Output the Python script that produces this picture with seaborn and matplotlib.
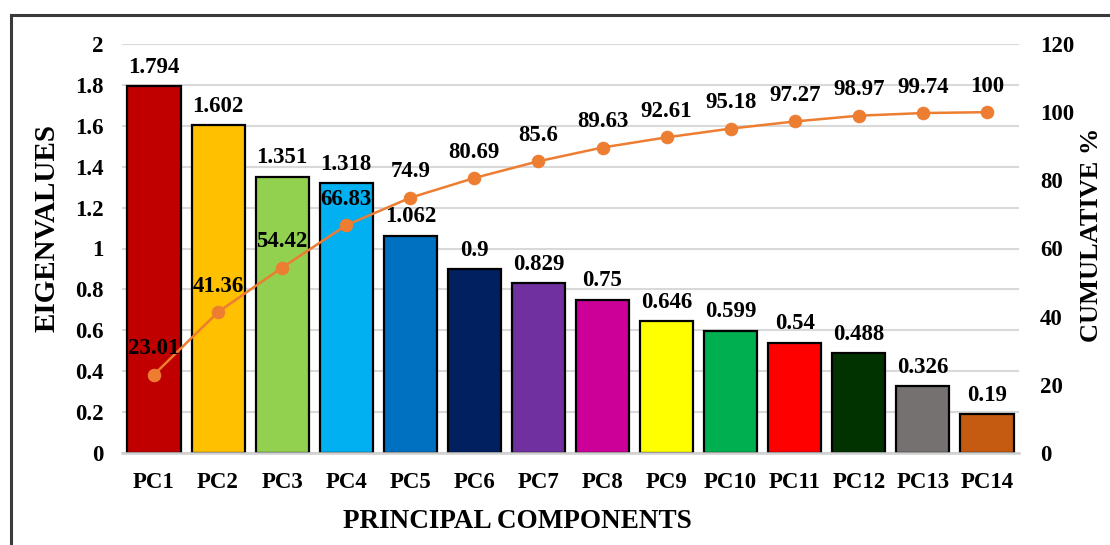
import numpy as np
import pandas as pd
import matplotlib
matplotlib.use("Agg")
import matplotlib.pyplot as plt
from matplotlib.patches import Rectangle
import seaborn as sns

components = ["PC1", "PC2", "PC3", "PC4", "PC5", "PC6", "PC7",
              "PC8", "PC9", "PC10", "PC11", "PC12", "PC13", "PC14"]
eigenvalues = [1.794, 1.602, 1.351, 1.318, 1.062, 0.9, 0.829,
               0.75, 0.646, 0.599, 0.54, 0.488, 0.326, 0.19]
cumulative = [23.01, 41.36, 54.42, 66.83, 74.9, 80.69, 85.6,
              89.63, 92.61, 95.18, 97.27, 98.97, 99.74, 100]
bar_colors = ["#C00000", "#FFC000", "#92D050", "#00B0F0", "#0070C0", "#002060",
              "#7030A0", "#CC0099", "#FFFF00", "#00B050", "#FF0000", "#003300",
              "#767171", "#C55A11"]
left_ticks = [0, 0.2, 0.4, 0.6, 0.8, 1, 1.2, 1.4, 1.6, 1.8, 2]
left_tick_labels = ["0", "0.2", "0.4", "0.6", "0.8", "1", "1.2", "1.4", "1.6", "1.8", "2"]
right_ticks = [0, 20, 40, 60, 80, 100, 120]

sns.set_theme(style="white")
plt.rcParams["font.family"] = ["Liberation Serif", "DejaVu Serif"]
plt.rcParams["font.weight"] = "bold"
plt.rcParams["text.color"] = "black"

TICK_FS = 16.5
df = pd.DataFrame({"component": components, "eigenvalue": eigenvalues})

W, H = 1110, 545
fig = plt.figure(figsize=(W / 100, H / 100), dpi=100)
x0, x1, ytop, ybot = 122, 1019, 44, 453
ax = fig.add_axes([x0 / W, (H - ybot) / H, (x1 - x0) / W, (ybot - ytop) / H])

sns.barplot(data=df, x="component", y="eigenvalue", hue="component",
            palette=bar_colors, legend=False, width=0.83, saturation=1,
            edgecolor="black", linewidth=1.6, ax=ax, zorder=2)
ax.set_xlim(-0.5, len(components) - 0.5)
ax.set_ylim(0, 2)
ax.set_yticks(left_ticks)
ax.set_yticklabels(left_tick_labels)
ax.grid(axis="y", color="#d9d9d9", linewidth=1.5, zorder=0)
ax.set_axisbelow(True)
for s in ["top", "right", "left"]:
    ax.spines[s].set_visible(False)
ax.spines["bottom"].set_color("#d0d0d0")
ax.spines["bottom"].set_linewidth(1.8)
ax.tick_params(axis="both", length=0, labelsize=TICK_FS, colors="black")
ax.tick_params(axis="y", pad=13)
ax.tick_params(axis="x", pad=14)
for lbl in ax.get_xticklabels() + ax.get_yticklabels():
    lbl.set_fontweight("bold")

ax.set_xlabel("PRINCIPAL COMPONENTS", fontsize=19.5, fontweight="bold", color="black")
ax.xaxis.set_label_coords(0.441, -0.137)
ax.set_ylabel("EIGENVALUES", fontsize=21, fontweight="bold", color="black")
ax.yaxis.set_label_coords(-0.068, 0.55)

for i, v in enumerate(eigenvalues):
    ax.annotate(f"{v:g}", xy=(i, v), xytext=(0, 6), textcoords="offset points",
                ha="center", va="bottom", fontsize=TICK_FS, fontweight="bold",
                color="black", zorder=5)

ax2 = ax.twinx()
sns.lineplot(x=np.arange(len(components)), y=cumulative, marker="o",
             color="#ED7D31", linewidth=1.8, markersize=9,
             markeredgecolor="#ED7D31", ax=ax2, zorder=3)
ax2.set_ylim(0, 120)
ax2.set_yticks(right_ticks)
ax2.set_ylabel("")
for s in ax2.spines.values():
    s.set_visible(False)
ax2.tick_params(axis="y", length=0, labelsize=TICK_FS, pad=15, colors="black")
for lbl in ax2.get_yticklabels():
    lbl.set_fontweight("bold")
ax2.grid(False)

for i, v in enumerate(cumulative):
    ax2.annotate(f"{v:g}", xy=(i, v), xytext=(0, 11), textcoords="offset points",
                 ha="center", va="bottom", fontsize=TICK_FS, fontweight="bold",
                 color="black", zorder=6)

fig.text(1091 / W, 1 - 235 / H, "CUMULATIVE %", rotation=90, ha="center",
         va="center", fontsize=19, fontweight="bold", color="black")

# outer frame, open on the right and bottom edges
frame = Rectangle((11 / W, -0.1), 1.2, 1 - 15 / H + 0.1, transform=fig.transFigure,
                  fill=False, edgecolor="#3a3a3a", linewidth=2.2, zorder=10)
fig.patches.append(frame)

fig.savefig("out.png", dpi=100, facecolor="white")
